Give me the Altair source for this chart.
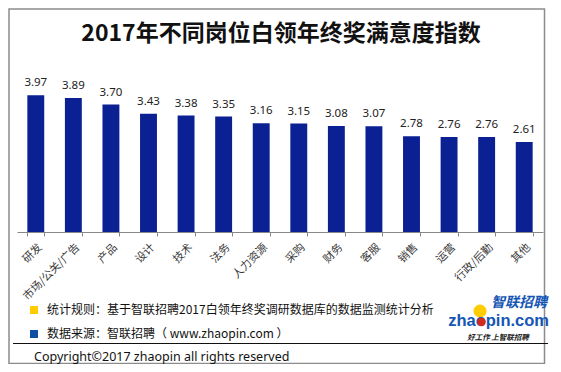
import altair as alt
import pandas as pd

categories = ["研发", "市场/公关/广告", "产品", "设计", "技术", "法务", "人力资源",
              "采购", "财务", "客服", "销售", "运营", "行政/后勤", "其他"]
values = [3.97, 3.89, 3.70, 3.43, 3.38, 3.35, 3.16, 3.15, 3.08, 3.07, 2.78, 2.76, 2.76, 2.61]

title_text = "2017年不同岗位白领年终奖满意度指数"
note1 = "统计规则：基于智联招聘2017白领年终奖调研数据库的数据监测统计分析"
note2 = "数据来源：智联招聘（ www.zhaopin.com ）"
copyright_text = "Copyright©2017 zhaopin all rights reserved"

df = pd.DataFrame({"cat": categories, "val": values})

CJK = "Noto Sans CJK SC"
BAR = "#0B2193"

# plot origin in page coords is (17, 77)
def px(x):
    return x - 17

def py(y):
    return y - 77

xenc = alt.X("cat:N", sort=categories, title=None,
             scale=alt.Scale(paddingInner=0.55, paddingOuter=0.275),
             axis=alt.Axis(labelAngle=-45, labelFont=CJK, labelFontSize=11,
                           labelColor="#3a3a3a", labelPadding=5,
                           domainColor="#888888", tickColor="#888888", tickSize=4,
                           tickBand="extent", grid=False))
yenc = alt.Y("val:Q", scale=alt.Scale(domain=[0, 4.5]), axis=None)

bars = alt.Chart(df).mark_bar(color=BAR).encode(x=xenc, y=yenc)
labels = alt.Chart(df).mark_text(font="Noto Sans", fontSize=11.5, color="#222222",
                                 baseline="alphabetic", dy=-9).encode(
    x=alt.X("cat:N", sort=categories), y="val:Q", text=alt.Text("val:Q", format=".2f"))

one = pd.DataFrame({"k": [0]})

def txt(text, x, y, **kw):
    return alt.Chart(one).mark_text(text=text, **kw).encode(x=alt.value(x), y=alt.value(y))

border = alt.Chart(one).mark_rect(filled=False, stroke="#8c8c8c", strokeWidth=1.5).encode(
    x=alt.value(-8), x2=alt.value(527.5), y=alt.value(-68), y2=alt.value(286.5))

title = txt(title_text, px(281), py(34), font=CJK, fontSize=23, fontWeight="bold",
            color="#111111", align="center", baseline="middle")

sq_y = alt.Chart(one).mark_rect(color="#FFCC00").encode(
    x=alt.value(px(30)), x2=alt.value(px(38)), y=alt.value(py(306)), y2=alt.value(py(314)))
sq_b = alt.Chart(one).mark_rect(color="#0D4FA3").encode(
    x=alt.value(px(30)), x2=alt.value(px(38)), y=alt.value(py(330)), y2=alt.value(py(338)))
t1 = txt(note1, px(47), py(310), font=CJK, fontSize=12, color="#111111",
         align="left", baseline="middle")
t2 = txt(note2, px(47), py(334), font=CJK, fontSize=12, color="#111111",
         align="left", baseline="middle")
hline = alt.Chart(one).mark_rule(color="#111111", strokeWidth=1.2).encode(
    x=alt.value(px(13)), x2=alt.value(px(548)), y=alt.value(py(343.5)))
cr = txt(copyright_text, px(34), py(357), font="Noto Sans", fontSize=12.5,
         color="#111111", align="left", baseline="middle")

# logo
ycirc = alt.Chart(one).mark_circle(color="#FFCC00", opacity=1, size=170).encode(
    x=alt.value(px(480)), y=alt.value(py(311)))
logo1 = txt("智联招聘", px(547), py(303), font=CJK, fontSize=14, fontWeight="bold",
            fontStyle="italic", color="#1556B5", align="right", baseline="middle")
logo2 = txt("zhaopin.com", px(549), py(321), font="Liberation Sans", fontSize=16.5,
            fontWeight="bold", color="#1556B5", align="right", baseline="middle")
rdot = alt.Chart(one).mark_circle(color="#D42A1E", opacity=1, size=70).encode(
    x=alt.value(px(481.5)), y=alt.value(py(322)))
logo3 = txt("好工作  上智联招聘", px(498), py(337.5), font=CJK, fontSize=7.5,
            fontWeight="bold", fontStyle="italic", color="#222222",
            align="center", baseline="middle")

chart = alt.layer(border, title, bars, labels, sq_y, sq_b, t1, t2, hline, cr,
                  ycirc, logo2, rdot, logo1, logo3).properties(
    width=526, height=155,
    padding={"left": 9, "top": 69, "right": 10, "bottom": 132},
    autosize=alt.AutoSizeParams(type="none"),
).configure_view(stroke=None)

chart.save("out.html", embed_options={"renderer": "svg", "actions": False})
